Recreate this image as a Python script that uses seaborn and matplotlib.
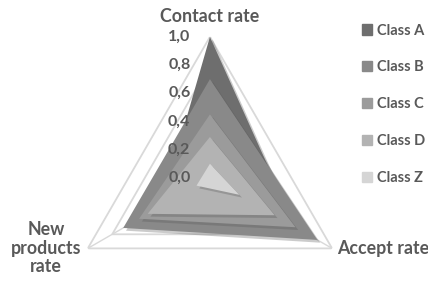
import numpy as np
import matplotlib
matplotlib.use("Agg")
import matplotlib.pyplot as plt
import matplotlib.patheffects as pe
import seaborn as sns

# data (filled radar, 3 axes)
categories = ["Contact rate", "Accept rate", "New\nproducts\nrate"]
series_names = ["Class A", "Class B", "Class C", "Class D", "Class Z"]
class_a = [1.00, 0.70, 0.40]
class_b = [0.70, 0.88, 0.71]
class_c = [0.45, 0.70, 0.58]
class_d = [0.29, 0.53, 0.51]
class_z = [0.10, 0.24, 0.11]
r_ticks = [0.0, 0.2, 0.4, 0.6, 0.8, 1.0]
r_tick_labels = ["0,0", "0,2", "0,4", "0,6", "0,8", "1,0"]

sns.set_theme(style="white")
plt.rcParams["font.family"] = ["Lato", "DejaVu Sans"]

greys = ["#6e6e6e", "#898989", "#9b9b9b", "#b3b3b3", "#d5d5d5"]
text_col = "#595959"

fig = plt.figure(figsize=(4.28, 2.81), dpi=100)
ax = fig.add_axes([0.161, -0.135, 0.659, 1.004], projection="polar")
ax.set_theta_zero_location("N")
ax.set_theta_direction(-1)
ax.set_ylim(0, 1)
ax.set_axis_off()

theta = np.deg2rad([0, 120, 240])
theta_c = np.append(theta, theta[0])

# grid triangles
for r in r_ticks[1:]:
    ax.plot(theta_c, [r] * 4, color="#d9d9d9", lw=1.3, zorder=1)
for t in theta:
    ax.plot([t, t], [0, 1], color="#d9d9d9", lw=1.0, zorder=1)

shadow = [pe.SimplePatchShadow(offset=(2, -2), shadow_rgbFace="#555555", alpha=0.3), pe.Normal()]
for i, (name, vals) in enumerate(zip(series_names, [class_a, class_b, class_c, class_d, class_z])):
    v = np.append(vals, vals[0])
    poly = ax.fill(theta_c, v, color=greys[i], lw=0, zorder=2 + i)[0]
    poly.set_path_effects(shadow)

# radial tick labels
for r, lab in zip(r_ticks, r_tick_labels):
    ax.annotate(lab, xy=(0, r), xytext=(-14, 0), textcoords="offset points",
                ha="right", va="center", fontsize=11.5, fontweight="bold",
                color=text_col, zorder=10, annotation_clip=False)

# category labels
ax.annotate(categories[0], xy=(0, 1), xytext=(0, 15), textcoords="offset points",
            ha="center", va="center", fontsize=12.8, fontweight="bold", color=text_col,
            annotation_clip=False)
ax.annotate(categories[1], xy=(theta[1], 1), xytext=(37, 0), textcoords="offset points",
            ha="center", va="center", fontsize=12.8, fontweight="bold", color=text_col,
            annotation_clip=False)
ax.annotate(categories[2], xy=(theta[2], 1), xytext=(-30, 0), textcoords="offset points",
            ha="center", va="center", fontsize=12.8, fontweight="bold", color=text_col,
            annotation_clip=False, linespacing=1.1)

# legend
handles = [plt.Rectangle((0, 0), 1, 1, color=c) for c in greys]
leg = fig.legend(handles, series_names, loc="upper left", bbox_to_anchor=(0.832, 0.937),
                 borderaxespad=0, frameon=False, fontsize=10.5, handlelength=0.7,
                 handleheight=0.7, handletextpad=0.35, labelspacing=1.57,
                 labelcolor=text_col)
for t in leg.get_texts():
    t.set_fontweight("bold")

fig.savefig("out.png", dpi=100)
